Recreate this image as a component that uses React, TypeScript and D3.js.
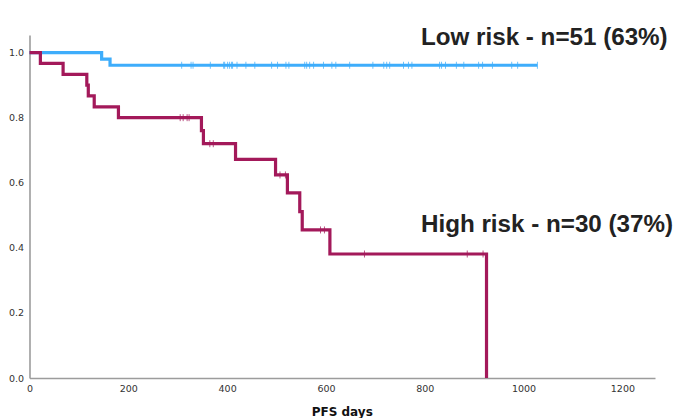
import React, { useRef, useEffect } from "react";
import { select, scaleLinear, axisLeft, axisBottom, line, curveStepAfter, bisector } from "d3";

// Kaplan-Meier steps: [days, survival]
const lowRiskSteps: [number, number][] = [
  [0, 1.0],
  [146, 0.98],
  [163, 0.961],
  [1028, 0.961],
];
const lowRiskCensored = [
  308, 327, 331, 366, 393, 395, 401, 405, 409, 411, 420, 438, 456, 490, 502, 519, 525,
  557, 561, 567, 575, 595, 612, 620, 648, 695, 717, 723, 729, 757, 767, 774, 830, 834,
  842, 864, 879, 909, 917, 937, 976, 988, 1028,
];

const highRiskSteps: [number, number][] = [
  [0, 1.0],
  [22, 0.967],
  [68, 0.933],
  [116, 0.9],
  [119, 0.867],
  [131, 0.833],
  [180, 0.8],
  [348, 0.76],
  [352, 0.72],
  [417, 0.672],
  [498, 0.624],
  [522, 0.569],
  [547, 0.511],
  [552, 0.455],
  [608, 0.381],
  [925, 0.0],
];
const highRiskCensored = [305, 311, 319, 323, 365, 372, 507, 518, 589, 597, 678, 886, 918];

const xTicks = [0, 200, 400, 600, 800, 1000, 1200];
const yTicks = [0, 0.2, 0.4, 0.6, 0.8, 1.0];

const groups = [
  { name: "Low risk - n=51 (63%)", steps: lowRiskSteps, censored: lowRiskCensored, color: "#3eadfb", labelX: 421, labelY: 44.5 },
  { name: "High risk - n=30 (37%)", steps: highRiskSteps, censored: highRiskCensored, color: "#a3195a", labelX: 421, labelY: 232 },
];

export default function App() {
  const svgRef = useRef<SVGSVGElement>(null);

  useEffect(() => {
    const svg = select(svgRef.current);
    svg.selectAll("*").remove();

    const xScale = scaleLinear().domain([0, 1266]).range([29.5, 655]);
    const yScale = scaleLinear().domain([0, 1.054]).range([378, 35]);

    // axes
    const xAxis = axisBottom(xScale)
      .tickValues(xTicks)
      .tickSize(0)
      .tickPadding(7)
      .tickFormat((d) => String(d));
    const gx = svg.append("g").attr("transform", `translate(0,${yScale(0)})`).call(xAxis);

    const yAxis = axisLeft(yScale)
      .tickValues(yTicks)
      .tickSize(0)
      .tickPadding(5.5)
      .tickFormat((d) => (+d).toFixed(1));
    const gy = svg.append("g").attr("transform", `translate(${xScale(0)},0)`).call(yAxis);

    [gx, gy].forEach((g) => {
      g.select(".domain").attr("stroke", "#9c9c9c").attr("stroke-width", 1.6);
      g.selectAll("text")
        .attr("fill", "#333")
        .style("font-family", "DejaVu Sans, sans-serif")
        .style("font-size", "9.5px");
    });

    const myLine = line<[number, number]>()
      .x((d) => xScale(d[0]))
      .y((d) => yScale(d[1]))
      .curve(curveStepAfter);

    const stepAt = bisector((d: [number, number]) => d[0]).right;

    groups.forEach((grp) => {
      svg
        .append("path")
        .datum(grp.steps)
        .attr("d", myLine)
        .attr("fill", "none")
        .attr("stroke", grp.color)
        .attr("stroke-width", 3.2)
        .attr("stroke-linejoin", "miter");

      svg
        .append("g")
        .selectAll("line")
        .data(grp.censored)
        .join("line")
        .attr("x1", (d) => xScale(d))
        .attr("x2", (d) => xScale(d))
        .attr("y1", (d) => yScale(grp.steps[stepAt(grp.steps, d) - 1][1]) - 3.5)
        .attr("y2", (d) => yScale(grp.steps[stepAt(grp.steps, d) - 1][1]) + 3.5)
        .attr("stroke", grp.color)
        .attr("stroke-opacity", 0.75)
        .attr("stroke-width", 1);

      svg
        .append("text")
        .attr("x", grp.labelX)
        .attr("y", grp.labelY)
        .attr("fill", "#222")
        .style("font-family", "Liberation Sans, Arial, sans-serif")
        .style("font-weight", "bold")
        .style("font-size", "24.2px")
        .text(grp.name);
    });

    svg
      .append("text")
      .attr("x", (xScale(0) + xScale(1266)) / 2)
      .attr("y", 415.5)
      .attr("text-anchor", "middle")
      .attr("fill", "#111")
      .style("font-family", "DejaVu Sans, sans-serif")
      .style("font-weight", "bold")
      .style("font-size", "12px")
      .text("PFS days");
  }, []);

  return (
    <svg
      ref={svgRef}
      width={676}
      height={418}
      style={{ position: "absolute", left: 0, top: 0, background: "#fff" }}
    />
  );
}
